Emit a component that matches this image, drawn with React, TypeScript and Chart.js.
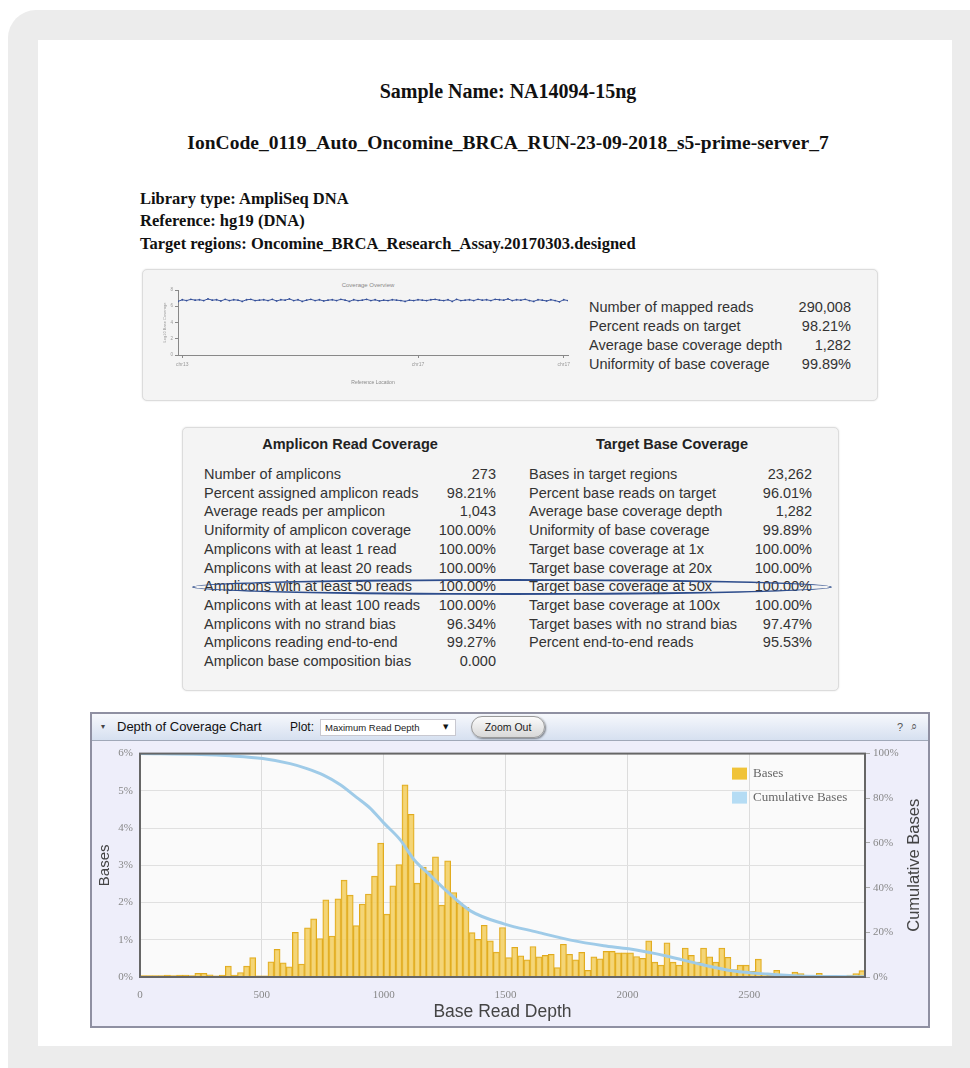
import React, { useEffect, useRef } from "react";
import { Chart, registerables } from "chart.js";

Chart.register(...registerables);

// ---------- Depth of coverage chart data ----------
const BIN_WIDTH = 25;
const X_MAX = 2975;
const X_TICKS = [0, 500, 1000, 1500, 2000, 2500];
const BASES_MAX_PCT = 6;
const BASES_PCT = [
  0.04, 0.04, 0.04, 0.04, 0.05, 0.04, 0.05, 0.05, 0.04, 0.1,
  0.1, 0.06, 0.03, 0.05, 0.29, 0.05, 0.12, 0.29, 0.52, 0.03,
  0.03, 0.41, 0.74, 0.38, 0.27, 1.2, 0.35, 1.32, 1.56, 1.03,
  2.07, 1.1, 2.1, 2.6, 2.2, 1.38, 1.96, 2.23, 2.71, 3.6,
  1.69, 2.45, 3.02, 5.16, 4.37, 2.52, 2.95, 2.85, 3.23, 1.93,
  3.12, 2.27, 1.98, 1.87, 1.19, 1.01, 1.39, 0.97, 0.67, 1.33,
  0.52, 0.8, 0.57, 0.46, 0.82, 0.54, 0.58, 0.61, 0.25, 0.88,
  0.61, 0.46, 0.66, 0.18, 0.54, 0.49, 0.69, 0.69, 0.65, 0.65,
  0.65, 0.55, 0.5, 0.97, 0.4, 0.32, 0.92, 0.4, 0.32, 0.78,
  0.58, 0.4, 0.78, 0.54, 0.4, 0.78, 0.53, 0.2, 0.32, 0.32,
  0.15, 0.48, 0.1, 0.05, 0.18, 0.05, 0.03, 0.13, 0.09, 0.03,
  0.03, 0.1, 0.03, 0.02, 0.02, 0.02, 0.05, 0.09, 0.17,
];
const CUM_DEPTH = [
  0, 250, 370, 504, 616, 685, 753, 822, 890, 945, 1000, 1068, 1123, 1191,
  1260, 1356, 1493, 1630, 1767, 1903, 2006, 2164, 2300, 2437, 2575, 2711,
  2850, 2975,
];
const CUM_PCT = [
  100, 99.6, 99, 97.8, 95.5, 93.3, 90.4, 86.1, 80.3, 75.5, 69, 61.4, 52.7,
  45.5, 38.3, 29.6, 23.8, 20.1, 16.5, 14, 12.6, 9.3, 5.7, 2.7, 1.3, 0.4, 0.2,
  0.1,
];

// ---------- Coverage overview (small chart) ----------
const OVERVIEW_DEPTH = [
  6.6, 6.8, 6.7, 6.85, 6.75, 6.8, 6.7, 6.9, 6.75, 6.8, 6.65, 6.85, 6.7, 6.8,
  6.75, 6.6, 6.8, 6.85, 6.7, 6.75, 6.8, 6.7, 6.85, 6.65, 6.8, 6.75, 6.9, 6.7,
  6.8, 6.6, 6.75, 6.85, 6.7, 6.8, 6.65, 6.75, 6.8, 6.7, 6.85, 6.75, 6.6, 6.8,
  6.7, 6.75, 6.85, 6.7, 6.8, 6.65, 6.75, 6.7, 6.8, 6.75, 6.7, 6.6, 6.75, 6.7,
  6.8, 6.75, 6.7, 6.8, 6.85, 6.75, 6.7, 6.8, 6.6, 6.85, 6.7, 6.75, 6.8, 6.7,
  6.85, 6.75, 6.8, 6.7, 6.85, 6.8, 6.75, 6.9, 6.7, 6.8, 6.75, 6.85, 6.7, 6.6,
  6.8, 6.75, 6.65, 6.8, 6.7, 6.55, 6.8, 6.7,
];
const OVERVIEW_TICK_POS = [1, 56, 90];
const OVERVIEW_TICK_LABELS = ["chr13", "chr17", "chr17"];

// ---------- Text tables ----------
const MAPPED_LABELS = [
  "Number of mapped reads",
  "Percent reads on target",
  "Average base coverage depth",
  "Uniformity of base coverage",
];
const MAPPED_VALUES = ["290,008", "98.21%", "1,282", "99.89%"];

const AMPLICON_LABELS = [
  "Number of amplicons",
  "Percent assigned amplicon reads",
  "Average reads per amplicon",
  "Uniformity of amplicon coverage",
  "Amplicons with at least 1 read",
  "Amplicons with at least 20 reads",
  "Amplicons with at least 50 reads",
  "Amplicons with at least 100 reads",
  "Amplicons with no strand bias",
  "Amplicons reading end-to-end",
  "Amplicon base composition bias",
];
const AMPLICON_VALUES = [
  "273", "98.21%", "1,043", "100.00%", "100.00%", "100.00%", "100.00%",
  "100.00%", "96.34%", "99.27%", "0.000",
];
const TARGET_LABELS = [
  "Bases in target regions",
  "Percent base reads on target",
  "Average base coverage depth",
  "Uniformity of base coverage",
  "Target base coverage at 1x",
  "Target base coverage at 20x",
  "Target base coverage at 50x",
  "Target base coverage at 100x",
  "Target bases with no strand bias",
  "Percent end-to-end reads",
];
const TARGET_VALUES = [
  "23,262", "96.01%", "1,282", "99.89%", "100.00%", "100.00%", "100.00%",
  "100.00%", "97.47%", "95.53%",
];

const SERIF = "'Liberation Serif', 'Times New Roman', serif";
const SANS = "'Liberation Sans', Arial, sans-serif";

type TProps = {
  x: number;
  y: number;
  size: number;
  children: React.ReactNode;
  bold?: boolean;
  align?: "left" | "right" | "center";
  family?: string;
  color?: string;
};

function T({ x, y, size, children, bold, align = "left", family = SANS, color = "#333" }: TProps) {
  const lh = Math.round(size * 1.25);
  const base: React.CSSProperties = {
    position: "absolute",
    top: y - lh / 2,
    fontSize: size,
    lineHeight: lh + "px",
    fontFamily: family,
    fontWeight: bold ? "bold" : "normal",
    color,
    whiteSpace: "nowrap",
  };
  if (align === "left") base.left = x;
  else if (align === "right") base.right = 970 - x;
  else {
    base.left = x - 450;
    base.width = 900;
    base.textAlign = "center";
  }
  return <div style={base}>{children}</div>;
}

const plotDecor = {
  id: "plotDecor",
  beforeDraw(chart: any) {
    const { ctx, chartArea: a } = chart;
    ctx.save();
    ctx.fillStyle = "#fafafa";
    ctx.fillRect(a.left, a.top, a.right - a.left, a.bottom - a.top);
    ctx.restore();
  },
  afterDatasetsDraw(chart: any) {
    const { ctx, chartArea: a } = chart;
    ctx.save();
    ctx.strokeStyle = "#666";
    ctx.lineWidth = 2;
    ctx.strokeRect(a.left, a.top, a.right - a.left, a.bottom - a.top);
    // legend inside the plot, top right
    const items = [
      { label: "Bases", color: "#f0c338" },
      { label: "Cumulative Bases", color: "#b5dcf4" },
    ];
    const x0 = a.right - 133;
    items.forEach((it, i) => {
      const cy = a.top + 20 + i * 24;
      ctx.fillStyle = it.color;
      ctx.fillRect(x0, cy - 6, 15, 12);
      ctx.fillStyle = "#666";
      ctx.font = "13px 'Liberation Serif'";
      ctx.textBaseline = "middle";
      ctx.textAlign = "left";
      ctx.fillText(it.label, x0 + 21, cy);
    });
    ctx.restore();
  },
  afterDraw(chart: any) {
    // right axis title, reading bottom-to-top
    const { ctx, chartArea: a } = chart;
    ctx.save();
    ctx.translate(chart.width - 14, (a.top + a.bottom) / 2);
    ctx.rotate(-Math.PI / 2);
    ctx.fillStyle = "#444";
    ctx.font = "16.5px 'Liberation Sans'";
    ctx.textAlign = "center";
    ctx.textBaseline = "middle";
    ctx.fillText("Cumulative Bases", 0, 0);
    ctx.restore();
  },
};

function DepthChart() {
  const ref = useRef<HTMLCanvasElement | null>(null);
  useEffect(() => {
    if (!ref.current) return;
    const tickFont = { family: "'Liberation Serif'", size: 11 };
    const chart = new Chart(ref.current, {
      type: "bar",
      data: {
        datasets: [
          {
            type: "bar",
            label: "Bases",
            data: BASES_PCT.map((v, i) => ({ x: i * BIN_WIDTH + BIN_WIDTH / 2, y: v })),
            backgroundColor: "rgba(243,205,90,0.82)",
            borderColor: "#e0aa1e",
            borderWidth: 1,
            barPercentage: 1,
            categoryPercentage: 1,
            yAxisID: "y",
            order: 2,
          } as any,
          {
            type: "line",
            label: "Cumulative Bases",
            data: CUM_DEPTH.map((d, i) => ({ x: d, y: CUM_PCT[i] })),
            borderColor: "#9fcbe8",
            borderWidth: 3,
            pointRadius: 0,
            cubicInterpolationMode: "monotone",
            yAxisID: "y1",
            order: 1,
          } as any,
        ],
      },
      options: {
        animation: false,
        responsive: false,
        maintainAspectRatio: false,
        layout: { padding: { top: 8, left: 0, right: 0, bottom: 0 } },
        plugins: { legend: { display: false }, tooltip: { enabled: false } },
        scales: {
          x: {
            type: "linear",
            min: 0,
            max: X_MAX,
            offset: false,
            grid: { color: "#dcdcdc", offset: false, drawTicks: false },
            border: { display: false },
            afterBuildTicks: (s: any) => {
              s.ticks = X_TICKS.map((v) => ({ value: v }));
            },
            ticks: {
              padding: 12,
              color: "#888",
              font: tickFont,
              maxRotation: 0,
              callback: (v: any) => String(v),
            },
            title: {
              display: true,
              text: "Base Read Depth",
              color: "#444",
              font: { family: "'Liberation Sans'", size: 17.5 },
              padding: { top: 0, bottom: 3 },
            },
            afterFit: (s: any) => {
              s.height = 49;
            },
          } as any,
          y: {
            position: "left",
            min: 0,
            max: BASES_MAX_PCT,
            grid: { color: "#e0e0e0", drawTicks: false },
            border: { display: false },
            ticks: {
              stepSize: 1,
              padding: 7,
              color: "#888",
              font: tickFont,
              callback: (v: any) => v + "%",
            },
            title: {
              display: true,
              text: "Bases",
              color: "#444",
              font: { family: "'Liberation Sans'", size: 15 },
              padding: { top: 4, bottom: 0 },
            },
            afterFit: (s: any) => {
              s.width = 48;
            },
          } as any,
          y1: {
            position: "right",
            min: 0,
            max: 100,
            grid: { drawOnChartArea: false, tickLength: 5, color: "#aaa" },
            border: { display: false },
            ticks: {
              stepSize: 20,
              padding: 3,
              color: "#888",
              font: tickFont,
              callback: (v: any) => v + "%",
            },
            title: { display: false },
            afterFit: (s: any) => {
              s.width = 63;
            },
          } as any,
        },
      },
      plugins: [plotDecor],
    });
    return () => chart.destroy();
  }, []);
  return (
    <canvas
      ref={ref}
      width={836}
      height={286}
      style={{ position: "absolute", left: 92, top: 740, width: 836, height: 286 }}
    />
  );
}

function OverviewChart() {
  const ref = useRef<HTMLCanvasElement | null>(null);
  useEffect(() => {
    if (!ref.current) return;
    const tiny = { family: "'Liberation Sans'", size: 5 };
    const chart = new Chart(ref.current, {
      type: "line",
      data: {
        datasets: [
          {
            data: OVERVIEW_DEPTH.map((v, i) => ({ x: i, y: v })),
            borderColor: "#35509a",
            borderWidth: 1,
            pointRadius: 0.9,
            pointBackgroundColor: "#35509a",
            pointBorderWidth: 0,
            tension: 0,
          } as any,
        ],
      },
      options: {
        animation: false,
        responsive: false,
        maintainAspectRatio: false,
        layout: { padding: { top: 14, right: 12, left: 0, bottom: 0 } },
        plugins: { legend: { display: false }, tooltip: { enabled: false } },
        scales: {
          x: {
            type: "linear",
            min: 0,
            max: OVERVIEW_DEPTH.length - 1,
            grid: { drawOnChartArea: false, tickLength: 3, color: "#888" },
            border: { display: true, color: "#888" },
            afterBuildTicks: (s: any) => {
              s.ticks = OVERVIEW_TICK_POS.map((v) => ({ value: v }));
            },
            ticks: {
              color: "#999",
              font: tiny,
              padding: 4,
              maxRotation: 0,
              callback: (_v: any, i: number) => OVERVIEW_TICK_LABELS[i],
            },
            title: {
              display: true,
              text: "Reference Location",
              color: "#888",
              font: tiny,
              padding: { top: 8, bottom: 6 },
            },
            afterFit: (s: any) => {
              s.height = 37;
            },
          } as any,
          y: {
            min: 0,
            max: 8,
            grid: { drawOnChartArea: false, tickLength: 3, color: "#888" },
            border: { display: true, color: "#888" },
            ticks: { stepSize: 1, color: "#999", font: { family: "'Liberation Sans'", size: 4.5 }, padding: 2 },
            title: {
              display: true,
              text: "Log10 Base Coverage",
              color: "#999",
              font: { family: "'Liberation Sans'", size: 4 },
              padding: { top: 2, bottom: 0 },
            },
            afterFit: (s: any) => {
              s.width = 18;
            },
          } as any,
        },
      },
    });
    return () => chart.destroy();
  }, []);
  return (
    <canvas
      ref={ref}
      width={420}
      height={116}
      style={{ position: "absolute", left: 160, top: 276, width: 420, height: 116 }}
    />
  );
}

export default function App() {
  const rowY = (i: number) => 474 + i * 18.7;
  return (
    <div
      style={{
        position: "absolute",
        left: 0,
        top: 0,
        width: 970,
        height: 1068,
        background: "#ffffff",
        overflow: "hidden",
      }}
    >
      {/* outer grey frame */}
      <div
        style={{
          position: "absolute",
          left: 8,
          top: 10,
          width: 990,
          height: 1090,
          background: "#ececec",
          borderRadius: 28,
        }}
      />
      <div
        style={{
          position: "absolute",
          left: 38,
          top: 40,
          width: 914,
          height: 1006,
          background: "#ffffff",
        }}
      />

      {/* headings */}
      <T x={508} y={91} size={20} bold family={SERIF} color="#111" align="center">
        Sample Name: NA14094-15ng
      </T>
      <T x={508} y={143} size={19.5} bold family={SERIF} color="#111" align="center">
        IonCode_0119_Auto_Oncomine_BRCA_RUN-23-09-2018_s5-prime-server_7
      </T>
      <T x={140} y={198} size={16.5} bold family={SERIF} color="#111">
        Library type: AmpliSeq DNA
      </T>
      <T x={140} y={220.5} size={16.5} bold family={SERIF} color="#111">
        Reference: hg19 (DNA)
      </T>
      <T x={140} y={243} size={16.5} bold family={SERIF} color="#111">
        Target regions: Oncomine_BRCA_Research_Assay.20170303.designed
      </T>

      {/* coverage overview panel */}
      <div
        style={{
          position: "absolute",
          left: 142,
          top: 269,
          width: 734,
          height: 130,
          background: "#f4f4f4",
          border: "1px solid #dcdcdc",
          borderRadius: 5,
          boxShadow: "0 0 2px rgba(0,0,0,0.12)",
        }}
      />
      <T x={368} y={285} size={6} align="center" color="#888">
        Coverage Overview
      </T>
      <OverviewChart />
      {MAPPED_LABELS.map((l, i) => (
        <T key={"ml" + i} x={589} y={307 + i * 19} size={14.5}>
          {l}
        </T>
      ))}
      {MAPPED_VALUES.map((v, i) => (
        <T key={"mv" + i} x={851} y={307 + i * 19} size={14.5} align="right">
          {v}
        </T>
      ))}

      {/* amplicon / target tables */}
      <div
        style={{
          position: "absolute",
          left: 182,
          top: 427,
          width: 655,
          height: 262,
          background: "#f4f4f4",
          border: "1px solid #dcdcdc",
          borderRadius: 5,
          boxShadow: "0 0 2px rgba(0,0,0,0.12)",
        }}
      />
      <T x={350} y={444} size={14.5} bold align="center" color="#222">
        Amplicon Read Coverage
      </T>
      <T x={672} y={444} size={14.5} bold align="center" color="#222">
        Target Base Coverage
      </T>
      {AMPLICON_LABELS.map((l, i) => (
        <T key={"al" + i} x={204} y={rowY(i)} size={14.5}>
          {l}
        </T>
      ))}
      {AMPLICON_VALUES.map((v, i) => (
        <T key={"av" + i} x={496} y={rowY(i)} size={14.5} align="right">
          {v}
        </T>
      ))}
      {TARGET_LABELS.map((l, i) => (
        <T key={"tl" + i} x={529} y={rowY(i)} size={14.5}>
          {l}
        </T>
      ))}
      {TARGET_VALUES.map((v, i) => (
        <T key={"tv" + i} x={812} y={rowY(i)} size={14.5} align="right">
          {v}
        </T>
      ))}
      {/* highlight ellipse */}
      <div
        style={{
          position: "absolute",
          left: 192,
          top: 579,
          width: 636,
          height: 12,
          border: "2px solid #2e4d8c",
          borderRadius: "50%",
        }}
      />

      {/* depth of coverage widget */}
      <div
        style={{
          position: "absolute",
          left: 90,
          top: 712,
          width: 836,
          height: 312,
          background: "#eeeefa",
          border: "2px solid #8f90a2",
        }}
      />
      <div
        style={{
          position: "absolute",
          left: 92,
          top: 714,
          width: 836,
          height: 26,
          background: "linear-gradient(#f6f8fc, #d6e0f0)",
          borderBottom: "1px solid #a0a8b8",
        }}
      />
      <T x={101} y={727} size={8} family="'DejaVu Sans', sans-serif" color="#444">
        ▾
      </T>
      <T x={117} y={727} size={13} color="#111">
        Depth of Coverage Chart
      </T>
      <T x={290} y={727} size={12} color="#111">
        Plot:
      </T>
      <div
        style={{
          position: "absolute",
          left: 320,
          top: 719,
          width: 136,
          height: 17,
          background: "#ffffff",
          border: "1px solid #c8c8d0",
          boxSizing: "border-box",
        }}
      />
      <T x={325} y={727.5} size={9.5} color="#222">
        Maximum Read Depth
      </T>
      <T x={443} y={727} size={7} family="'DejaVu Sans', sans-serif" color="#111">
        ▼
      </T>
      <div
        style={{
          position: "absolute",
          left: 471,
          top: 716,
          width: 74,
          height: 22,
          borderRadius: 11,
          background: "linear-gradient(#fbfbfb, #d8d8d8)",
          border: "1px solid #9a9a9a",
          boxShadow: "1px 1px 2px rgba(0,0,0,0.45)",
          boxSizing: "border-box",
        }}
      />
      <T x={508} y={727} size={10.5} align="center" color="#222">
        Zoom Out
      </T>
      <T x={897} y={727} size={11} color="#555">
        ?
      </T>
      <T x={911} y={727} size={11} family="'DejaVu Sans', sans-serif" color="#555">
        ⌕
      </T>
      <DepthChart />
    </div>
  );
}
